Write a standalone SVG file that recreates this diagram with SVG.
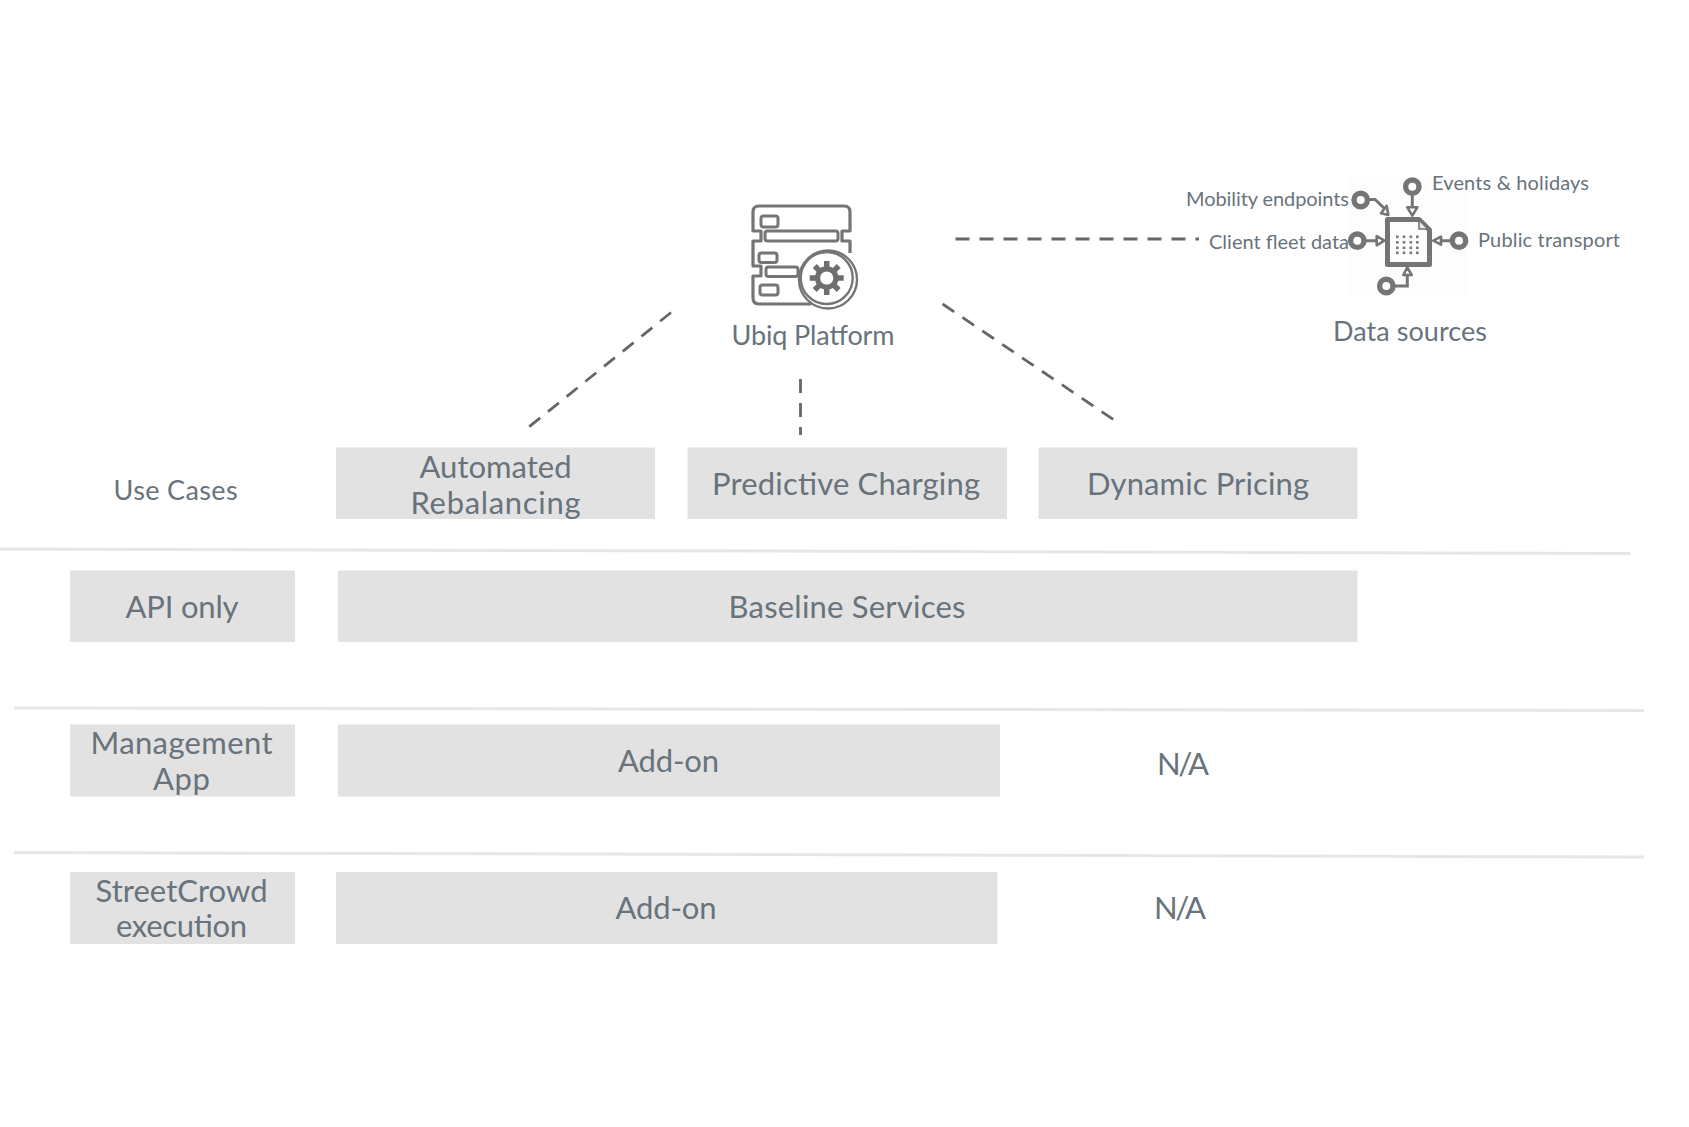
<svg xmlns="http://www.w3.org/2000/svg" width="1689" height="1127" viewBox="0 0 1689 1127">
<style>
text{font-family:"Lato","Open Sans",sans-serif;fill:#68737c;text-anchor:middle}
.b{fill:#e2e2e2}
.t{font-size:31px}
.m{font-size:27px}
.s{font-size:20px;text-anchor:start}
.sep{stroke:#e6e6e6;stroke-width:3;fill:none}
.dash{stroke:#666;stroke-width:2.8;fill:none;stroke-dasharray:14 10}
.ic{stroke:#757575;fill:none;stroke-linejoin:round}
.ar{stroke:#757575;stroke-width:2.6;fill:#fff;stroke-linejoin:round}
.ln{stroke:#757575;stroke-width:3;fill:none}
.ring{stroke:#757575;stroke-width:5.400;fill:#fff}
.dot{fill:#7a7a7a}
</style>
<rect width="1689" height="1127" fill="#fff"/>
<g id="separators">
<line class="sep" x1="0" y1="549" x2="1630" y2="553.500"/>
<line class="sep" x1="14" y1="708" x2="1644" y2="710.500"/>
<line class="sep" x1="14" y1="852.500" x2="1644" y2="857"/>
</g>
<g id="connectors">
<line class="dash" x1="955.500" y1="239" x2="1199" y2="239"/>
<line class="dash" x1="671" y1="312.500" x2="527" y2="428.500"/>
<line class="dash" x1="800.500" y1="379" x2="800.500" y2="435"/>
<line class="dash" x1="942.600" y1="304" x2="1114" y2="420"/>
</g>
<g id="platform">
<path class="ic" stroke-width="3.200" d="M811 304H759q-6 0-6-6V276H761V266H753V241H761V231H753V212q0-6 6-6H844q6 0 6 6V231H842V241H850V253"/>
<g class="ic" stroke-width="3">
<rect x="761" y="216" width="17" height="11" rx="2.500"/>
<rect x="765" y="231" width="73" height="10" rx="2.500"/>
<rect x="759" y="253" width="18" height="9.500" rx="2.500"/>
<rect x="766" y="267" width="32" height="9.500" rx="2.500"/>
<rect x="760" y="285" width="18" height="10" rx="2.500"/>
</g>
<circle cx="828" cy="279.500" r="29" class="ic" stroke-width="2.400" fill="#fff"/>
<circle cx="826.700" cy="278" r="26" class="ic" stroke-width="2.400" fill="#fff"/>
<g stroke="#6e6e6e" fill="none">
<circle cx="826.700" cy="278" r="9.200" stroke-width="5.200"/>
<path stroke-width="5.500" d="M826.700 261v7M826.700 288v7M809.700 278h7M836.700 278h7M814.700 266l5 5M833.700 285l5 5M838.700 266l-5 5M819.700 285l-5 5"/>
</g>
<text class="m" x="813" y="345" textLength="163">Ubiq Platform</text>
</g>
<g id="data-sources">
<rect x="1348" y="177" width="119" height="120" fill="#fdfdfd"/>
<path class="ic" stroke-width="5" d="M1387.500 219.500H1419L1429.500 230V264.500H1387.500Z"/>
<path d="M1419 220V229H1428Z" fill="#e6e6e6" stroke="#757575" stroke-width="1.600"/>
<g class="dot">
<rect x="1396" y="235.500" width="2.600" height="2.600"/><rect x="1402.700" y="235.500" width="2.600" height="2.600"/><rect x="1409.500" y="235.500" width="2.600" height="2.600"/><rect x="1416" y="235.500" width="2.600" height="2.600"/>
<rect x="1396" y="241" width="2.600" height="2.600"/><rect x="1402.700" y="241" width="2.600" height="2.600"/><rect x="1409.500" y="241" width="2.600" height="2.600"/><rect x="1416" y="241" width="2.600" height="2.600"/>
<rect x="1396" y="246.500" width="2.600" height="2.600"/><rect x="1402.700" y="246.500" width="2.600" height="2.600"/><rect x="1409.500" y="246.500" width="2.600" height="2.600"/><rect x="1416" y="246.500" width="2.600" height="2.600"/>
<rect x="1396" y="251.500" width="2.600" height="2.600"/><rect x="1402.700" y="251.500" width="2.600" height="2.600"/><rect x="1409.500" y="251.500" width="2.600" height="2.600"/><rect x="1416" y="251.500" width="2.600" height="2.600"/>
</g>
<path class="ln" d="M1412.300 194V208M1367 199.500H1375L1385 209M1364 240.700H1377M1452 240.700H1441M1393 286H1407.300V275"/>
<path class="ar" d="M1407.300 207.300H1417.300L1412.300 215.700ZM1386.700 205.700L1381 213.300L1388.300 215ZM1376.700 236V245.300L1384.300 240.700ZM1441 236.700V244.700L1433.300 240.700ZM1403.300 275H1411.700L1407.300 267.300Z"/>
<circle class="ring" cx="1412.300" cy="186.700" r="6.700"/>
<circle class="ring" cx="1360.700" cy="200" r="6.700"/>
<circle class="ring" cx="1357.300" cy="240.700" r="6.700"/>
<circle class="ring" cx="1459" cy="240.700" r="6.700"/>
<circle class="ring" cx="1386.300" cy="286" r="6.700"/>
<text class="s" x="1186" y="206" textLength="163">Mobility endpoints</text>
<text class="s" x="1432" y="190" textLength="157">Events &amp; holidays</text>
<text class="s" x="1209" y="248.700" textLength="140">Client fleet data</text>
<text class="s" x="1478" y="246.700" textLength="142">Public transport</text>
<text class="m" x="1410" y="340.700" textLength="154">Data sources</text>
</g>
<g id="use-cases-label"><text class="m" x="175.600" y="500" textLength="124">Use Cases</text></g>
<g id="automated-rebalancing"><rect class="b" x="336" y="447.500" width="319" height="71.500"/><text class="t" x="495.500" y="477.500" textLength="152">Automated</text><text class="t" x="495.500" y="513.500" textLength="170">Rebalancing</text></g>
<g id="predictive-charging"><rect class="b" x="687.500" y="447.500" width="319.500" height="71.500"/><text class="t" x="846" y="494.600" textLength="268">Predictive Charging</text></g>
<g id="dynamic-pricing"><rect class="b" x="1038.500" y="447.500" width="319" height="71.500"/><text class="t" x="1198" y="494.600" textLength="222">Dynamic Pricing</text></g>
<g id="api-only"><rect class="b" x="70" y="570.500" width="225" height="71.500"/><text class="t" x="182" y="618" textLength="113">API only</text></g>
<g id="baseline-services"><rect class="b" x="338" y="570.500" width="1019.500" height="71.500"/><text class="t" x="847" y="618" textLength="237">Baseline Services</text></g>
<g id="management-app"><rect class="b" x="70" y="724.500" width="225" height="72"/><text class="t" x="181.500" y="754" textLength="182">Management</text><text class="t" x="181.500" y="790" textLength="57">App</text></g>
<g id="addon-1"><rect class="b" x="338" y="724.500" width="662" height="72"/><text class="t" x="668.500" y="771.500" textLength="101">Add-on</text></g>
<g id="na-1"><text class="t" x="1183" y="774.700" textLength="52">N/A</text></g>
<g id="streetcrowd"><rect class="b" x="70" y="872" width="225" height="72"/><text class="t" x="181.500" y="902" textLength="172">StreetCrowd</text><text class="t" x="181.500" y="937" textLength="131">execution</text></g>
<g id="addon-2"><rect class="b" x="336" y="872" width="661.500" height="72"/><text class="t" x="666" y="919" textLength="101">Add-on</text></g>
<g id="na-2"><text class="t" x="1180" y="919" textLength="52">N/A</text></g>
</svg>
